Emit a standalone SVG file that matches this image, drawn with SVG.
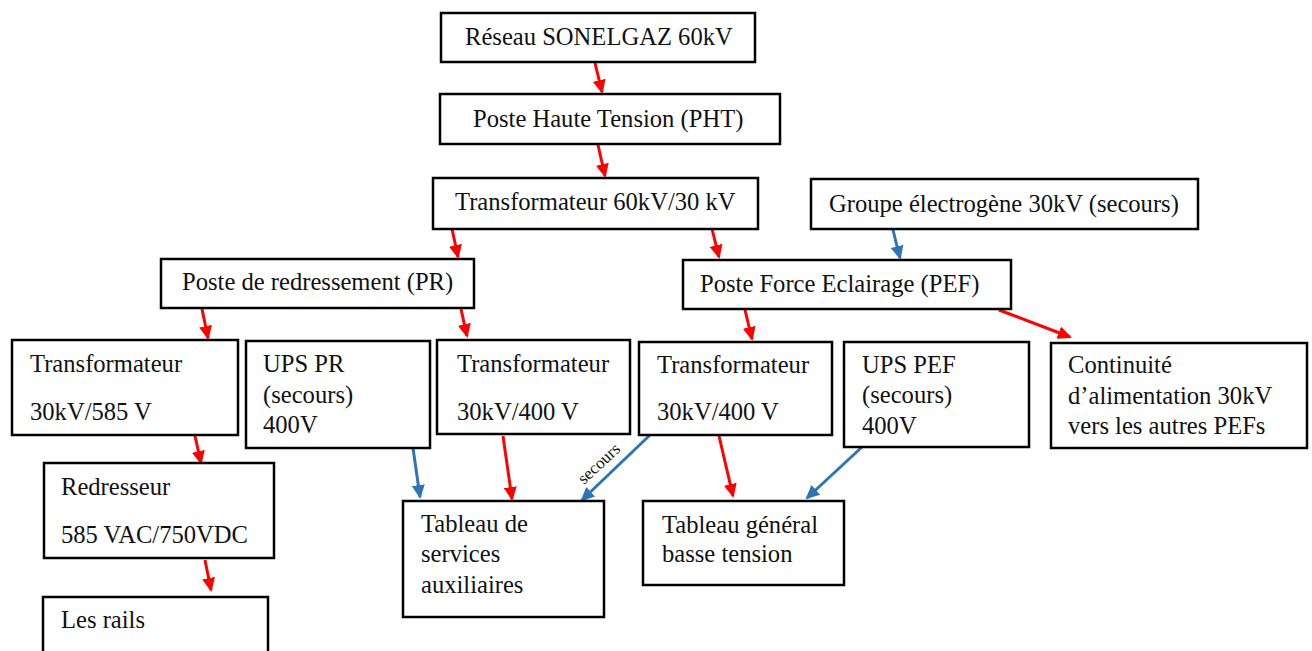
<svg xmlns="http://www.w3.org/2000/svg" width="1312" height="651" viewBox="0 0 1312 651">
  <defs>
    <style>
      .box { fill: #ffffff; stroke: #000000; stroke-width: 2.5; }
      .lbl { font-family: "Liberation Serif", "Times New Roman", serif; font-size: 24.6px; fill: #111111; }
      .small { font-family: "Liberation Serif", "Times New Roman", serif; font-size: 17px; fill: #111111; }
      .red { stroke: #ff0000; stroke-width: 3; fill: none; marker-end: url(#headRed); }
      .blue { stroke: #2e75b6; stroke-width: 3; fill: none; marker-end: url(#headBlue); }
    </style>
    <marker id="headRed" viewBox="0 0 14 13" refX="12" refY="6.5" markerWidth="14" markerHeight="13" markerUnits="userSpaceOnUse" orient="auto">
      <path d="M0,0 L14,6.5 L0,13 z" fill="#ff0000"/>
    </marker>
    <marker id="headBlue" viewBox="0 0 14 13" refX="12" refY="6.5" markerWidth="14" markerHeight="13" markerUnits="userSpaceOnUse" orient="auto">
      <path d="M0,0 L14,6.5 L0,13 z" fill="#2e75b6"/>
    </marker>
  </defs>

  <rect width="1312" height="651" fill="#ffffff"/>

  <!-- connectors -->
  <g id="connectors">
    <line class="red" x1="595" y1="63" x2="602" y2="92"/>
    <line class="red" x1="598" y1="145" x2="605" y2="176"/>
    <line class="red" x1="452" y1="229" x2="458" y2="257"/>
    <line class="red" x1="712" y1="229" x2="719" y2="257"/>
    <line class="blue" x1="893" y1="230" x2="900" y2="258"/>
    <line class="red" x1="202" y1="309" x2="208" y2="338"/>
    <line class="red" x1="461" y1="309" x2="467" y2="336"/>
    <line class="red" x1="745" y1="310" x2="752" y2="339"/>
    <line class="red" x1="999" y1="310" x2="1070" y2="337"/>
    <line class="red" x1="195" y1="436" x2="201" y2="463"/>
    <line class="red" x1="205" y1="560" x2="211" y2="590"/>
    <line class="blue" x1="413" y1="448" x2="420" y2="497"/>
    <line class="red" x1="503" y1="436" x2="512" y2="499"/>
    <line class="blue" x1="650" y1="435" x2="582" y2="500"/>
    <line class="red" x1="719" y1="436" x2="733" y2="496"/>
    <line class="blue" x1="862" y1="447" x2="807" y2="498"/>
    <text class="small" transform="translate(584,485) rotate(-43)">secours</text>
  </g>

  <g id="n-reseau">
    <rect class="box" x="441" y="13" width="314" height="49"/>
    <text class="lbl" x="465" y="45">Réseau SONELGAZ 60kV</text>
  </g>

  <g id="n-pht">
    <rect class="box" x="440" y="94" width="340" height="50"/>
    <text class="lbl" x="473" y="127">Poste Haute Tension (PHT)</text>
  </g>

  <g id="n-transfo-60-30">
    <rect class="box" x="433" y="178" width="325" height="51"/>
    <text class="lbl" x="455" y="210">Transformateur 60kV/30 kV</text>
  </g>

  <g id="n-groupe">
    <rect class="box" x="811" y="179" width="387" height="50"/>
    <text class="lbl" x="829" y="212">Groupe électrogène 30kV (secours)</text>
  </g>

  <g id="n-pr">
    <rect class="box" x="161" y="259" width="313" height="49"/>
    <text class="lbl" x="182" y="290">Poste de redressement (PR)</text>
  </g>

  <g id="n-pef">
    <rect class="box" x="683" y="260" width="328" height="49"/>
    <text class="lbl" x="700" y="292">Poste Force Eclairage (PEF)</text>
  </g>

  <g id="n-transfo-585">
    <rect class="box" x="12" y="340" width="226" height="95"/>
    <text class="lbl" x="30" y="372">Transformateur</text>
    <text class="lbl" x="30" y="420">30kV/585 V</text>
  </g>

  <g id="n-ups-pr">
    <rect class="box" x="246" y="341" width="184" height="107"/>
    <text class="lbl" x="263" y="372">UPS PR</text>
    <text class="lbl" x="263" y="403">(secours)</text>
    <text class="lbl" x="263" y="433">400V</text>
  </g>

  <g id="n-transfo-400-pr">
    <rect class="box" x="437" y="340" width="193" height="94"/>
    <text class="lbl" x="457" y="372">Transformateur</text>
    <text class="lbl" x="457" y="420">30kV/400 V</text>
  </g>

  <g id="n-transfo-400-pef">
    <rect class="box" x="639" y="342" width="193" height="93"/>
    <text class="lbl" x="657" y="373">Transformateur</text>
    <text class="lbl" x="657" y="420">30kV/400 V</text>
  </g>

  <g id="n-ups-pef">
    <rect class="box" x="844" y="342" width="185" height="105"/>
    <text class="lbl" x="862" y="373">UPS PEF</text>
    <text class="lbl" x="862" y="403">(secours)</text>
    <text class="lbl" x="862" y="434">400V</text>
  </g>

  <g id="n-continuite">
    <rect class="box" x="1051" y="343" width="256" height="105"/>
    <text class="lbl" x="1068" y="373">Continuité</text>
    <text class="lbl" x="1068" y="404">d’alimentation 30kV</text>
    <text class="lbl" x="1068" y="434">vers les autres PEFs</text>
  </g>

  <g id="n-redresseur">
    <rect class="box" x="44" y="463" width="230" height="95"/>
    <text class="lbl" x="61" y="495">Redresseur</text>
    <text class="lbl" x="61" y="543">585 VAC/750VDC</text>
  </g>

  <g id="n-tableau-sa">
    <rect class="box" x="403" y="501" width="201" height="116"/>
    <text class="lbl" x="421" y="532">Tableau de</text>
    <text class="lbl" x="421" y="562">services</text>
    <text class="lbl" x="421" y="593">auxiliaires</text>
  </g>

  <g id="n-tgbt">
    <rect class="box" x="643" y="501" width="201" height="84"/>
    <text class="lbl" x="662" y="533">Tableau général</text>
    <text class="lbl" x="662" y="562">basse tension</text>
  </g>

  <g id="n-rails">
    <rect class="box" x="43" y="597" width="225" height="80"/>
    <text class="lbl" x="61" y="628">Les rails</text>
  </g>
</svg>
